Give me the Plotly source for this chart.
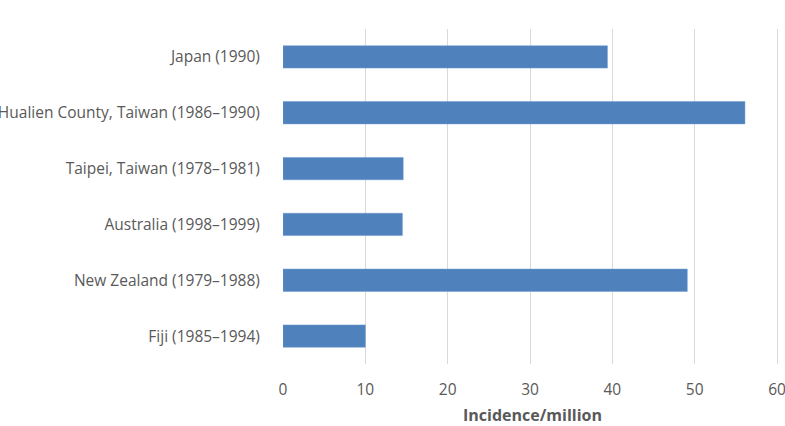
import plotly.graph_objects as go

# Data (listed top to bottom as in the chart)
regions = ['Japan (1990)', 'Hualien County, Taiwan (1986–1990)', 'Taipei, Taiwan (1978–1981)',
           'Australia (1998–1999)', 'New Zealand (1979–1988)', 'Fiji (1985–1994)']
incidence = [39.4, 56.1, 14.6, 14.5, 49.1, 10.0]
x_ticks = [0, 10, 20, 30, 40, 50, 60]

fig = go.Figure()

fig.add_trace(go.Bar(
    y=regions,
    x=incidence,
    orientation='h',
    marker=dict(color='#4f81bd', line=dict(color='#6d98cc', width=0.5)),
    width=0.4,
    showlegend=False,
))

fig.update_layout(
    width=785,
    height=426,
    margin=dict(l=283, r=3, t=29, b=62),
    plot_bgcolor='white',
    paper_bgcolor='white',
    font=dict(family='Open Sans, sans-serif', size=15.5, color='#595959'),
    xaxis=dict(
        range=[0, 60.6],
        tickvals=x_ticks,
        gridcolor='#d9d9d9',
        gridwidth=1,
        zeroline=False,
        showline=False,
        ticks='outside',
        ticklen=11,
        tickcolor='rgba(0,0,0,0)',
        ticklabeloverflow='allow',
        automargin=False,
        title=dict(text='<b>Incidence/million</b>', font=dict(size=16, color='#595959'), standoff=18),
    ),
    yaxis=dict(
        autorange='reversed',
        showgrid=False,
        zeroline=False,
        ticks='outside',
        ticklen=19,
        tickcolor='rgba(0,0,0,0)',
        automargin=False,
    ),
)

# drop the default page margin so the figure fills the window exactly
fig.write_html('out.html', config={'displayModeBar': False},
               post_script="document.body.style.margin='0';")
